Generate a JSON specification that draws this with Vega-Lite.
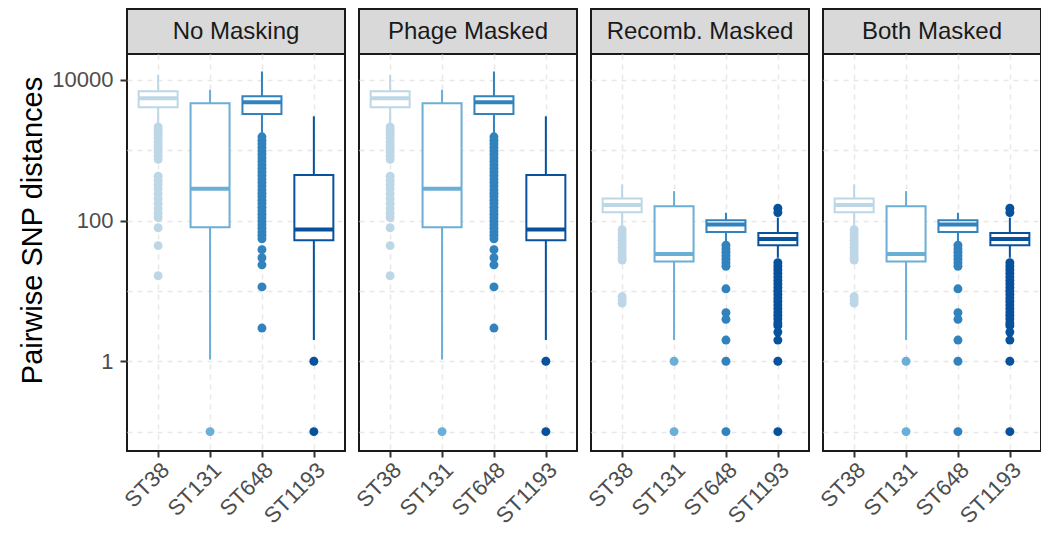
{
  "$schema": "https://vega.github.io/schema/vega-lite/v6.json",
  "padding": {"left": 16, "top": 8, "right": 0, "bottom": 0},
  "background": "white",
  "spacing": 5,
  "config": {
    "font": "Liberation Sans",
    "view": {"stroke": "#1a1a1a", "strokeWidth": 2}
  },
  "datasets": {
    "strips": [
      {"panel": "No Masking"}, {"panel": "Phage Masked"}, {"panel": "Recomb. Masked"}, {"panel": "Both Masked"}
    ],
    "boxes": [
      {"panel": "No Masking", "st": "ST38", "lower": 2350, "q1": 4070, "median": 5480, "q3": 6900, "upper": 11800},
      {"panel": "No Masking", "st": "ST131", "lower": 1.06, "q1": 80, "median": 284, "q3": 4640, "upper": 7260},
      {"panel": "No Masking", "st": "ST648", "lower": 1690, "q1": 3270, "median": 4800, "q3": 5850, "upper": 13150},
      {"panel": "No Masking", "st": "ST1193", "lower": 2.0, "q1": 52.4, "median": 74.3, "q3": 444, "upper": 3030},
      {"panel": "Phage Masked", "st": "ST38", "lower": 2350, "q1": 4070, "median": 5480, "q3": 6900, "upper": 11800},
      {"panel": "Phage Masked", "st": "ST131", "lower": 1.06, "q1": 80, "median": 284, "q3": 4640, "upper": 7260},
      {"panel": "Phage Masked", "st": "ST648", "lower": 1690, "q1": 3270, "median": 4800, "q3": 5850, "upper": 13150},
      {"panel": "Phage Masked", "st": "ST1193", "lower": 2.0, "q1": 52.4, "median": 74.3, "q3": 444, "upper": 3030},
      {"panel": "Recomb. Masked", "st": "ST38", "lower": 82, "q1": 131.5, "median": 166, "q3": 206, "upper": 327},
      {"panel": "Recomb. Masked", "st": "ST131", "lower": 2.0, "q1": 26.2, "median": 33.5, "q3": 160, "upper": 262},
      {"panel": "Recomb. Masked", "st": "ST648", "lower": 50, "q1": 68.9, "median": 87.7, "q3": 101, "upper": 129},
      {"panel": "Recomb. Masked", "st": "ST1193", "lower": 29.6, "q1": 44.4, "median": 54.8, "q3": 66.7, "upper": 110},
      {"panel": "Both Masked", "st": "ST38", "lower": 82, "q1": 131.5, "median": 166, "q3": 206, "upper": 327},
      {"panel": "Both Masked", "st": "ST131", "lower": 2.0, "q1": 26.2, "median": 33.5, "q3": 160, "upper": 262},
      {"panel": "Both Masked", "st": "ST648", "lower": 50, "q1": 68.9, "median": 87.7, "q3": 101, "upper": 129},
      {"panel": "Both Masked", "st": "ST1193", "lower": 29.6, "q1": 44.4, "median": 54.8, "q3": 66.7, "upper": 110}
    ],
    "outl": [
      {"panel": "No Masking", "st": "ST38", "value": 2138}, {"panel": "No Masking", "st": "ST38", "value": 1950}, {"panel": "No Masking", "st": "ST38", "value": 1778}, {"panel": "No Masking", "st": "ST38", "value": 1622}, {"panel": "No Masking", "st": "ST38", "value": 1479}, {"panel": "No Masking", "st": "ST38", "value": 1318}, {"panel": "No Masking", "st": "ST38", "value": 1175}, {"panel": "No Masking", "st": "ST38", "value": 1047}, {"panel": "No Masking", "st": "ST38", "value": 933}, {"panel": "No Masking", "st": "ST38", "value": 832}, {"panel": "No Masking", "st": "ST38", "value": 741},
      {"panel": "No Masking", "st": "ST38", "value": 427}, {"panel": "No Masking", "st": "ST38", "value": 372}, {"panel": "No Masking", "st": "ST38", "value": 324}, {"panel": "No Masking", "st": "ST38", "value": 282}, {"panel": "No Masking", "st": "ST38", "value": 240}, {"panel": "No Masking", "st": "ST38", "value": 204}, {"panel": "No Masking", "st": "ST38", "value": 174}, {"panel": "No Masking", "st": "ST38", "value": 148}, {"panel": "No Masking", "st": "ST38", "value": 126}, {"panel": "No Masking", "st": "ST38", "value": 110},
      {"panel": "No Masking", "st": "ST38", "value": 79}, {"panel": "No Masking", "st": "ST38", "value": 44}, {"panel": "No Masking", "st": "ST38", "value": 16.4},
      {"panel": "No Masking", "st": "ST131", "value": 0.1},
      {"panel": "No Masking", "st": "ST648", "value": 1549}, {"panel": "No Masking", "st": "ST648", "value": 1380}, {"panel": "No Masking", "st": "ST648", "value": 1230}, {"panel": "No Masking", "st": "ST648", "value": 1096}, {"panel": "No Masking", "st": "ST648", "value": 977}, {"panel": "No Masking", "st": "ST648", "value": 871}, {"panel": "No Masking", "st": "ST648", "value": 776}, {"panel": "No Masking", "st": "ST648", "value": 692}, {"panel": "No Masking", "st": "ST648", "value": 617}, {"panel": "No Masking", "st": "ST648", "value": 550}, {"panel": "No Masking", "st": "ST648", "value": 490}, {"panel": "No Masking", "st": "ST648", "value": 437}, {"panel": "No Masking", "st": "ST648", "value": 389}, {"panel": "No Masking", "st": "ST648", "value": 347}, {"panel": "No Masking", "st": "ST648", "value": 309}, {"panel": "No Masking", "st": "ST648", "value": 275}, {"panel": "No Masking", "st": "ST648", "value": 245}, {"panel": "No Masking", "st": "ST648", "value": 219}, {"panel": "No Masking", "st": "ST648", "value": 195}, {"panel": "No Masking", "st": "ST648", "value": 174}, {"panel": "No Masking", "st": "ST648", "value": 155}, {"panel": "No Masking", "st": "ST648", "value": 138}, {"panel": "No Masking", "st": "ST648", "value": 123}, {"panel": "No Masking", "st": "ST648", "value": 110}, {"panel": "No Masking", "st": "ST648", "value": 98}, {"panel": "No Masking", "st": "ST648", "value": 87}, {"panel": "No Masking", "st": "ST648", "value": 78}, {"panel": "No Masking", "st": "ST648", "value": 69}, {"panel": "No Masking", "st": "ST648", "value": 62}, {"panel": "No Masking", "st": "ST648", "value": 55},
      {"panel": "No Masking", "st": "ST648", "value": 38.5}, {"panel": "No Masking", "st": "ST648", "value": 29.6}, {"panel": "No Masking", "st": "ST648", "value": 23.5}, {"panel": "No Masking", "st": "ST648", "value": 11.4}, {"panel": "No Masking", "st": "ST648", "value": 2.96},
      {"panel": "No Masking", "st": "ST1193", "value": 1}, {"panel": "No Masking", "st": "ST1193", "value": 0.1},

      {"panel": "Phage Masked", "st": "ST38", "value": 2138}, {"panel": "Phage Masked", "st": "ST38", "value": 1950}, {"panel": "Phage Masked", "st": "ST38", "value": 1778}, {"panel": "Phage Masked", "st": "ST38", "value": 1622}, {"panel": "Phage Masked", "st": "ST38", "value": 1479}, {"panel": "Phage Masked", "st": "ST38", "value": 1318}, {"panel": "Phage Masked", "st": "ST38", "value": 1175}, {"panel": "Phage Masked", "st": "ST38", "value": 1047}, {"panel": "Phage Masked", "st": "ST38", "value": 933}, {"panel": "Phage Masked", "st": "ST38", "value": 832}, {"panel": "Phage Masked", "st": "ST38", "value": 741},
      {"panel": "Phage Masked", "st": "ST38", "value": 427}, {"panel": "Phage Masked", "st": "ST38", "value": 372}, {"panel": "Phage Masked", "st": "ST38", "value": 324}, {"panel": "Phage Masked", "st": "ST38", "value": 282}, {"panel": "Phage Masked", "st": "ST38", "value": 240}, {"panel": "Phage Masked", "st": "ST38", "value": 204}, {"panel": "Phage Masked", "st": "ST38", "value": 174}, {"panel": "Phage Masked", "st": "ST38", "value": 148}, {"panel": "Phage Masked", "st": "ST38", "value": 126}, {"panel": "Phage Masked", "st": "ST38", "value": 110},
      {"panel": "Phage Masked", "st": "ST38", "value": 79}, {"panel": "Phage Masked", "st": "ST38", "value": 44}, {"panel": "Phage Masked", "st": "ST38", "value": 16.4},
      {"panel": "Phage Masked", "st": "ST131", "value": 0.1},
      {"panel": "Phage Masked", "st": "ST648", "value": 1549}, {"panel": "Phage Masked", "st": "ST648", "value": 1380}, {"panel": "Phage Masked", "st": "ST648", "value": 1230}, {"panel": "Phage Masked", "st": "ST648", "value": 1096}, {"panel": "Phage Masked", "st": "ST648", "value": 977}, {"panel": "Phage Masked", "st": "ST648", "value": 871}, {"panel": "Phage Masked", "st": "ST648", "value": 776}, {"panel": "Phage Masked", "st": "ST648", "value": 692}, {"panel": "Phage Masked", "st": "ST648", "value": 617}, {"panel": "Phage Masked", "st": "ST648", "value": 550}, {"panel": "Phage Masked", "st": "ST648", "value": 490}, {"panel": "Phage Masked", "st": "ST648", "value": 437}, {"panel": "Phage Masked", "st": "ST648", "value": 389}, {"panel": "Phage Masked", "st": "ST648", "value": 347}, {"panel": "Phage Masked", "st": "ST648", "value": 309}, {"panel": "Phage Masked", "st": "ST648", "value": 275}, {"panel": "Phage Masked", "st": "ST648", "value": 245}, {"panel": "Phage Masked", "st": "ST648", "value": 219}, {"panel": "Phage Masked", "st": "ST648", "value": 195}, {"panel": "Phage Masked", "st": "ST648", "value": 174}, {"panel": "Phage Masked", "st": "ST648", "value": 155}, {"panel": "Phage Masked", "st": "ST648", "value": 138}, {"panel": "Phage Masked", "st": "ST648", "value": 123}, {"panel": "Phage Masked", "st": "ST648", "value": 110}, {"panel": "Phage Masked", "st": "ST648", "value": 98}, {"panel": "Phage Masked", "st": "ST648", "value": 87}, {"panel": "Phage Masked", "st": "ST648", "value": 78}, {"panel": "Phage Masked", "st": "ST648", "value": 69}, {"panel": "Phage Masked", "st": "ST648", "value": 62}, {"panel": "Phage Masked", "st": "ST648", "value": 55},
      {"panel": "Phage Masked", "st": "ST648", "value": 38.5}, {"panel": "Phage Masked", "st": "ST648", "value": 29.6}, {"panel": "Phage Masked", "st": "ST648", "value": 23.5}, {"panel": "Phage Masked", "st": "ST648", "value": 11.4}, {"panel": "Phage Masked", "st": "ST648", "value": 2.96},
      {"panel": "Phage Masked", "st": "ST1193", "value": 1}, {"panel": "Phage Masked", "st": "ST1193", "value": 0.1},

      {"panel": "Recomb. Masked", "st": "ST38", "value": 74}, {"panel": "Recomb. Masked", "st": "ST38", "value": 66}, {"panel": "Recomb. Masked", "st": "ST38", "value": 59}, {"panel": "Recomb. Masked", "st": "ST38", "value": 52.5}, {"panel": "Recomb. Masked", "st": "ST38", "value": 46.8}, {"panel": "Recomb. Masked", "st": "ST38", "value": 41.7}, {"panel": "Recomb. Masked", "st": "ST38", "value": 37.2}, {"panel": "Recomb. Masked", "st": "ST38", "value": 33.1}, {"panel": "Recomb. Masked", "st": "ST38", "value": 29.5}, {"panel": "Recomb. Masked", "st": "ST38", "value": 27.5}, {"panel": "Recomb. Masked", "st": "ST38", "value": 8.3}, {"panel": "Recomb. Masked", "st": "ST38", "value": 7.4}, {"panel": "Recomb. Masked", "st": "ST38", "value": 6.7},
      {"panel": "Recomb. Masked", "st": "ST131", "value": 1}, {"panel": "Recomb. Masked", "st": "ST131", "value": 0.1},
      {"panel": "Recomb. Masked", "st": "ST648", "value": 44.7}, {"panel": "Recomb. Masked", "st": "ST648", "value": 39.8}, {"panel": "Recomb. Masked", "st": "ST648", "value": 35.5}, {"panel": "Recomb. Masked", "st": "ST648", "value": 31.6}, {"panel": "Recomb. Masked", "st": "ST648", "value": 28.2}, {"panel": "Recomb. Masked", "st": "ST648", "value": 25.1}, {"panel": "Recomb. Masked", "st": "ST648", "value": 22.4}, {"panel": "Recomb. Masked", "st": "ST648", "value": 10.7}, {"panel": "Recomb. Masked", "st": "ST648", "value": 4.9}, {"panel": "Recomb. Masked", "st": "ST648", "value": 3.94}, {"panel": "Recomb. Masked", "st": "ST648", "value": 2.0}, {"panel": "Recomb. Masked", "st": "ST648", "value": 1}, {"panel": "Recomb. Masked", "st": "ST648", "value": 0.1},
      {"panel": "Recomb. Masked", "st": "ST1193", "value": 150}, {"panel": "Recomb. Masked", "st": "ST1193", "value": 130}, {"panel": "Recomb. Masked", "st": "ST1193", "value": 25.1}, {"panel": "Recomb. Masked", "st": "ST1193", "value": 22.4}, {"panel": "Recomb. Masked", "st": "ST1193", "value": 20}, {"panel": "Recomb. Masked", "st": "ST1193", "value": 17.8}, {"panel": "Recomb. Masked", "st": "ST1193", "value": 15.8}, {"panel": "Recomb. Masked", "st": "ST1193", "value": 14.1}, {"panel": "Recomb. Masked", "st": "ST1193", "value": 12.6}, {"panel": "Recomb. Masked", "st": "ST1193", "value": 11.2}, {"panel": "Recomb. Masked", "st": "ST1193", "value": 10}, {"panel": "Recomb. Masked", "st": "ST1193", "value": 8.9}, {"panel": "Recomb. Masked", "st": "ST1193", "value": 7.9}, {"panel": "Recomb. Masked", "st": "ST1193", "value": 7.1}, {"panel": "Recomb. Masked", "st": "ST1193", "value": 6.3}, {"panel": "Recomb. Masked", "st": "ST1193", "value": 5.6}, {"panel": "Recomb. Masked", "st": "ST1193", "value": 5.0}, {"panel": "Recomb. Masked", "st": "ST1193", "value": 4.5}, {"panel": "Recomb. Masked", "st": "ST1193", "value": 4.0}, {"panel": "Recomb. Masked", "st": "ST1193", "value": 3.5}, {"panel": "Recomb. Masked", "st": "ST1193", "value": 3.2}, {"panel": "Recomb. Masked", "st": "ST1193", "value": 2.6}, {"panel": "Recomb. Masked", "st": "ST1193", "value": 2.0}, {"panel": "Recomb. Masked", "st": "ST1193", "value": 1}, {"panel": "Recomb. Masked", "st": "ST1193", "value": 0.1},

      {"panel": "Both Masked", "st": "ST38", "value": 74}, {"panel": "Both Masked", "st": "ST38", "value": 66}, {"panel": "Both Masked", "st": "ST38", "value": 59}, {"panel": "Both Masked", "st": "ST38", "value": 52.5}, {"panel": "Both Masked", "st": "ST38", "value": 46.8}, {"panel": "Both Masked", "st": "ST38", "value": 41.7}, {"panel": "Both Masked", "st": "ST38", "value": 37.2}, {"panel": "Both Masked", "st": "ST38", "value": 33.1}, {"panel": "Both Masked", "st": "ST38", "value": 29.5}, {"panel": "Both Masked", "st": "ST38", "value": 27.5}, {"panel": "Both Masked", "st": "ST38", "value": 8.3}, {"panel": "Both Masked", "st": "ST38", "value": 7.4}, {"panel": "Both Masked", "st": "ST38", "value": 6.7},
      {"panel": "Both Masked", "st": "ST131", "value": 1}, {"panel": "Both Masked", "st": "ST131", "value": 0.1},
      {"panel": "Both Masked", "st": "ST648", "value": 44.7}, {"panel": "Both Masked", "st": "ST648", "value": 39.8}, {"panel": "Both Masked", "st": "ST648", "value": 35.5}, {"panel": "Both Masked", "st": "ST648", "value": 31.6}, {"panel": "Both Masked", "st": "ST648", "value": 28.2}, {"panel": "Both Masked", "st": "ST648", "value": 25.1}, {"panel": "Both Masked", "st": "ST648", "value": 22.4}, {"panel": "Both Masked", "st": "ST648", "value": 10.7}, {"panel": "Both Masked", "st": "ST648", "value": 4.9}, {"panel": "Both Masked", "st": "ST648", "value": 3.94}, {"panel": "Both Masked", "st": "ST648", "value": 2.0}, {"panel": "Both Masked", "st": "ST648", "value": 1}, {"panel": "Both Masked", "st": "ST648", "value": 0.1},
      {"panel": "Both Masked", "st": "ST1193", "value": 150}, {"panel": "Both Masked", "st": "ST1193", "value": 130}, {"panel": "Both Masked", "st": "ST1193", "value": 25.1}, {"panel": "Both Masked", "st": "ST1193", "value": 22.4}, {"panel": "Both Masked", "st": "ST1193", "value": 20}, {"panel": "Both Masked", "st": "ST1193", "value": 17.8}, {"panel": "Both Masked", "st": "ST1193", "value": 15.8}, {"panel": "Both Masked", "st": "ST1193", "value": 14.1}, {"panel": "Both Masked", "st": "ST1193", "value": 12.6}, {"panel": "Both Masked", "st": "ST1193", "value": 11.2}, {"panel": "Both Masked", "st": "ST1193", "value": 10}, {"panel": "Both Masked", "st": "ST1193", "value": 8.9}, {"panel": "Both Masked", "st": "ST1193", "value": 7.9}, {"panel": "Both Masked", "st": "ST1193", "value": 7.1}, {"panel": "Both Masked", "st": "ST1193", "value": 6.3}, {"panel": "Both Masked", "st": "ST1193", "value": 5.6}, {"panel": "Both Masked", "st": "ST1193", "value": 5.0}, {"panel": "Both Masked", "st": "ST1193", "value": 4.5}, {"panel": "Both Masked", "st": "ST1193", "value": 4.0}, {"panel": "Both Masked", "st": "ST1193", "value": 3.5}, {"panel": "Both Masked", "st": "ST1193", "value": 3.2}, {"panel": "Both Masked", "st": "ST1193", "value": 2.6}, {"panel": "Both Masked", "st": "ST1193", "value": 2.0}, {"panel": "Both Masked", "st": "ST1193", "value": 1}, {"panel": "Both Masked", "st": "ST1193", "value": 0.1}
    ]
  },
  "hconcat": [
    {
      "bounds": "flush", "spacing": 0,
      "vconcat": [
        {"data": {"name": "strips"}, "transform": [{"filter": "datum.panel == 'No Masking'"}], "width": 218, "height": 45,
         "view": {"fill": "#d9d9d9", "stroke": "#1a1a1a", "strokeWidth": 2},
         "mark": {"type": "text", "fontSize": 24, "color": "#1a1a1a", "font": "Liberation Sans"},
         "encoding": {"text": {"field": "panel", "type": "nominal"}}},
        {"width": 218, "height": 397,
         "encoding": {"x": {"field": "st", "type": "nominal", "sort": ["ST38", "ST131", "ST648", "ST1193"], "scale": {"type": "point", "padding": 0.6, "domain": ["ST38", "ST131", "ST648", "ST1193"]}, "axis": {"title": null, "labelAngle": -45, "labelAlign": "right", "labelBaseline": "top", "labelFontSize": 22, "labelColor": "#4d4d4d", "labelPadding": 2, "tickSize": 6, "tickWidth": 2, "tickColor": "#333333", "domain": false, "grid": true, "gridDash": [5, 5], "gridColor": "#e8e8e8", "gridWidth": 1.5}}},
         "layer": [
           {"data": {"name": "boxes"}, "transform": [{"filter": "datum.panel == 'No Masking'"}], "mark": {"type": "rule", "strokeWidth": 2},
            "encoding": {"y": {"field": "lower", "type": "quantitative", "scale": {"type": "log", "domain": [0.053, 23300], "nice": false, "zero": false},
              "axis": {"title": "Pairwise SNP distances", "titleFontSize": 29, "titleFontWeight": "normal", "titleColor": "#000000", "titlePadding": 1, "titleY": 176, "titleX": -80,
                "values": [0.1, 1, 10, 100, 1000, 10000], "format": "d",
                "labelExpr": "datum.value == 1 || datum.value == 100 || datum.value == 10000 ? datum.label : ''",
                "labelFontSize": 22, "labelColor": "#4d4d4d", "labelPadding": 7,
                "tickSize": 7, "tickWidth": 2, "tickColor": "#333333",
                "tickOpacity": {"condition": {"test": "datum.value == 1 || datum.value == 100 || datum.value == 10000", "value": 1}, "value": 0},
                "domain": false, "grid": true, "gridDash": [5, 5], "gridColor": "#e8e8e8", "gridWidth": 1.5}},
              "y2": {"field": "upper"},
              "color": {"field": "st", "type": "nominal", "scale": {"domain": ["ST38", "ST131", "ST648", "ST1193"], "range": ["#bdd7e7", "#6baed6", "#3182bd", "#08519c"]}, "legend": null}}},
           {"data": {"name": "boxes"}, "transform": [{"filter": "datum.panel == 'No Masking'"}], "mark": {"type": "bar", "fill": "white", "strokeWidth": 2, "width": 39},
            "encoding": {"y": {"field": "q1", "type": "quantitative", "scale": {"type": "log", "domain": [0.053, 23300], "nice": false, "zero": false}},
              "y2": {"field": "q3"},
              "stroke": {"field": "st", "type": "nominal", "scale": {"domain": ["ST38", "ST131", "ST648", "ST1193"], "range": ["#bdd7e7", "#6baed6", "#3182bd", "#08519c"]}, "legend": null}}},
           {"data": {"name": "boxes"}, "transform": [{"filter": "datum.panel == 'No Masking'"}], "mark": {"type": "tick", "thickness": 4, "size": 39, "opacity": 1},
            "encoding": {"y": {"field": "median", "type": "quantitative", "scale": {"type": "log", "domain": [0.053, 23300], "nice": false, "zero": false}},
              "color": {"field": "st", "type": "nominal", "scale": {"domain": ["ST38", "ST131", "ST648", "ST1193"], "range": ["#bdd7e7", "#6baed6", "#3182bd", "#08519c"]}, "legend": null}}},
           {"data": {"name": "outl"}, "transform": [{"filter": "datum.panel == 'No Masking'"}], "mark": {"type": "circle", "size": 80, "opacity": 1},
            "encoding": {"y": {"field": "value", "type": "quantitative", "scale": {"type": "log", "domain": [0.053, 23300], "nice": false, "zero": false}},
              "color": {"field": "st", "type": "nominal", "scale": {"domain": ["ST38", "ST131", "ST648", "ST1193"], "range": ["#bdd7e7", "#6baed6", "#3182bd", "#08519c"]}, "legend": null}}}
         ]}
      ]
    },
    {
      "bounds": "flush", "spacing": 0,
      "vconcat": [
        {"data": {"name": "strips"}, "transform": [{"filter": "datum.panel == 'Phage Masked'"}], "width": 218, "height": 45,
         "view": {"fill": "#d9d9d9", "stroke": "#1a1a1a", "strokeWidth": 2},
         "mark": {"type": "text", "fontSize": 24, "color": "#1a1a1a", "font": "Liberation Sans"},
         "encoding": {"text": {"field": "panel", "type": "nominal"}}},
        {"width": 218, "height": 397,
         "encoding": {"x": {"field": "st", "type": "nominal", "sort": ["ST38", "ST131", "ST648", "ST1193"], "scale": {"type": "point", "padding": 0.6, "domain": ["ST38", "ST131", "ST648", "ST1193"]}, "axis": {"title": null, "labelAngle": -45, "labelAlign": "right", "labelBaseline": "top", "labelFontSize": 22, "labelColor": "#4d4d4d", "labelPadding": 2, "tickSize": 6, "tickWidth": 2, "tickColor": "#333333", "domain": false, "grid": true, "gridDash": [5, 5], "gridColor": "#e8e8e8", "gridWidth": 1.5}}},
         "layer": [
           {"data": {"name": "boxes"}, "transform": [{"filter": "datum.panel == 'Phage Masked'"}], "mark": {"type": "rule", "strokeWidth": 2},
            "encoding": {"y": {"field": "lower", "type": "quantitative", "scale": {"type": "log", "domain": [0.053, 23300], "nice": false, "zero": false},
              "axis": {"title": null, "labels": false, "ticks": false, "values": [0.1, 1, 10, 100, 1000, 10000], "domain": false, "grid": true, "gridDash": [5, 5], "gridColor": "#e8e8e8", "gridWidth": 1.5}},
              "y2": {"field": "upper"},
              "color": {"field": "st", "type": "nominal", "scale": {"domain": ["ST38", "ST131", "ST648", "ST1193"], "range": ["#bdd7e7", "#6baed6", "#3182bd", "#08519c"]}, "legend": null}}},
           {"data": {"name": "boxes"}, "transform": [{"filter": "datum.panel == 'Phage Masked'"}], "mark": {"type": "bar", "fill": "white", "strokeWidth": 2, "width": 39},
            "encoding": {"y": {"field": "q1", "type": "quantitative", "scale": {"type": "log", "domain": [0.053, 23300], "nice": false, "zero": false}},
              "y2": {"field": "q3"},
              "stroke": {"field": "st", "type": "nominal", "scale": {"domain": ["ST38", "ST131", "ST648", "ST1193"], "range": ["#bdd7e7", "#6baed6", "#3182bd", "#08519c"]}, "legend": null}}},
           {"data": {"name": "boxes"}, "transform": [{"filter": "datum.panel == 'Phage Masked'"}], "mark": {"type": "tick", "thickness": 4, "size": 39, "opacity": 1},
            "encoding": {"y": {"field": "median", "type": "quantitative", "scale": {"type": "log", "domain": [0.053, 23300], "nice": false, "zero": false}},
              "color": {"field": "st", "type": "nominal", "scale": {"domain": ["ST38", "ST131", "ST648", "ST1193"], "range": ["#bdd7e7", "#6baed6", "#3182bd", "#08519c"]}, "legend": null}}},
           {"data": {"name": "outl"}, "transform": [{"filter": "datum.panel == 'Phage Masked'"}], "mark": {"type": "circle", "size": 80, "opacity": 1},
            "encoding": {"y": {"field": "value", "type": "quantitative", "scale": {"type": "log", "domain": [0.053, 23300], "nice": false, "zero": false}},
              "color": {"field": "st", "type": "nominal", "scale": {"domain": ["ST38", "ST131", "ST648", "ST1193"], "range": ["#bdd7e7", "#6baed6", "#3182bd", "#08519c"]}, "legend": null}}}
         ]}
      ]
    },
    {
      "bounds": "flush", "spacing": 0,
      "vconcat": [
        {"data": {"name": "strips"}, "transform": [{"filter": "datum.panel == 'Recomb. Masked'"}], "width": 218, "height": 45,
         "view": {"fill": "#d9d9d9", "stroke": "#1a1a1a", "strokeWidth": 2},
         "mark": {"type": "text", "fontSize": 24, "color": "#1a1a1a", "font": "Liberation Sans"},
         "encoding": {"text": {"field": "panel", "type": "nominal"}}},
        {"width": 218, "height": 397,
         "encoding": {"x": {"field": "st", "type": "nominal", "sort": ["ST38", "ST131", "ST648", "ST1193"], "scale": {"type": "point", "padding": 0.6, "domain": ["ST38", "ST131", "ST648", "ST1193"]}, "axis": {"title": null, "labelAngle": -45, "labelAlign": "right", "labelBaseline": "top", "labelFontSize": 22, "labelColor": "#4d4d4d", "labelPadding": 2, "tickSize": 6, "tickWidth": 2, "tickColor": "#333333", "domain": false, "grid": true, "gridDash": [5, 5], "gridColor": "#e8e8e8", "gridWidth": 1.5}}},
         "layer": [
           {"data": {"name": "boxes"}, "transform": [{"filter": "datum.panel == 'Recomb. Masked'"}], "mark": {"type": "rule", "strokeWidth": 2},
            "encoding": {"y": {"field": "lower", "type": "quantitative", "scale": {"type": "log", "domain": [0.053, 23300], "nice": false, "zero": false},
              "axis": {"title": null, "labels": false, "ticks": false, "values": [0.1, 1, 10, 100, 1000, 10000], "domain": false, "grid": true, "gridDash": [5, 5], "gridColor": "#e8e8e8", "gridWidth": 1.5}},
              "y2": {"field": "upper"},
              "color": {"field": "st", "type": "nominal", "scale": {"domain": ["ST38", "ST131", "ST648", "ST1193"], "range": ["#bdd7e7", "#6baed6", "#3182bd", "#08519c"]}, "legend": null}}},
           {"data": {"name": "boxes"}, "transform": [{"filter": "datum.panel == 'Recomb. Masked'"}], "mark": {"type": "bar", "fill": "white", "strokeWidth": 2, "width": 39},
            "encoding": {"y": {"field": "q1", "type": "quantitative", "scale": {"type": "log", "domain": [0.053, 23300], "nice": false, "zero": false}},
              "y2": {"field": "q3"},
              "stroke": {"field": "st", "type": "nominal", "scale": {"domain": ["ST38", "ST131", "ST648", "ST1193"], "range": ["#bdd7e7", "#6baed6", "#3182bd", "#08519c"]}, "legend": null}}},
           {"data": {"name": "boxes"}, "transform": [{"filter": "datum.panel == 'Recomb. Masked'"}], "mark": {"type": "tick", "thickness": 4, "size": 39, "opacity": 1},
            "encoding": {"y": {"field": "median", "type": "quantitative", "scale": {"type": "log", "domain": [0.053, 23300], "nice": false, "zero": false}},
              "color": {"field": "st", "type": "nominal", "scale": {"domain": ["ST38", "ST131", "ST648", "ST1193"], "range": ["#bdd7e7", "#6baed6", "#3182bd", "#08519c"]}, "legend": null}}},
           {"data": {"name": "outl"}, "transform": [{"filter": "datum.panel == 'Recomb. Masked'"}], "mark": {"type": "circle", "size": 80, "opacity": 1},
            "encoding": {"y": {"field": "value", "type": "quantitative", "scale": {"type": "log", "domain": [0.053, 23300], "nice": false, "zero": false}},
              "color": {"field": "st", "type": "nominal", "scale": {"domain": ["ST38", "ST131", "ST648", "ST1193"], "range": ["#bdd7e7", "#6baed6", "#3182bd", "#08519c"]}, "legend": null}}}
         ]}
      ]
    },
    {
      "bounds": "flush", "spacing": 0,
      "vconcat": [
        {"data": {"name": "strips"}, "transform": [{"filter": "datum.panel == 'Both Masked'"}], "width": 218, "height": 45,
         "view": {"fill": "#d9d9d9", "stroke": "#1a1a1a", "strokeWidth": 2},
         "mark": {"type": "text", "fontSize": 24, "color": "#1a1a1a", "font": "Liberation Sans"},
         "encoding": {"text": {"field": "panel", "type": "nominal"}}},
        {"width": 218, "height": 397,
         "encoding": {"x": {"field": "st", "type": "nominal", "sort": ["ST38", "ST131", "ST648", "ST1193"], "scale": {"type": "point", "padding": 0.6, "domain": ["ST38", "ST131", "ST648", "ST1193"]}, "axis": {"title": null, "labelAngle": -45, "labelAlign": "right", "labelBaseline": "top", "labelFontSize": 22, "labelColor": "#4d4d4d", "labelPadding": 2, "tickSize": 6, "tickWidth": 2, "tickColor": "#333333", "domain": false, "grid": true, "gridDash": [5, 5], "gridColor": "#e8e8e8", "gridWidth": 1.5}}},
         "layer": [
           {"data": {"name": "boxes"}, "transform": [{"filter": "datum.panel == 'Both Masked'"}], "mark": {"type": "rule", "strokeWidth": 2},
            "encoding": {"y": {"field": "lower", "type": "quantitative", "scale": {"type": "log", "domain": [0.053, 23300], "nice": false, "zero": false},
              "axis": {"title": null, "labels": false, "ticks": false, "values": [0.1, 1, 10, 100, 1000, 10000], "domain": false, "grid": true, "gridDash": [5, 5], "gridColor": "#e8e8e8", "gridWidth": 1.5}},
              "y2": {"field": "upper"},
              "color": {"field": "st", "type": "nominal", "scale": {"domain": ["ST38", "ST131", "ST648", "ST1193"], "range": ["#bdd7e7", "#6baed6", "#3182bd", "#08519c"]}, "legend": null}}},
           {"data": {"name": "boxes"}, "transform": [{"filter": "datum.panel == 'Both Masked'"}], "mark": {"type": "bar", "fill": "white", "strokeWidth": 2, "width": 39},
            "encoding": {"y": {"field": "q1", "type": "quantitative", "scale": {"type": "log", "domain": [0.053, 23300], "nice": false, "zero": false}},
              "y2": {"field": "q3"},
              "stroke": {"field": "st", "type": "nominal", "scale": {"domain": ["ST38", "ST131", "ST648", "ST1193"], "range": ["#bdd7e7", "#6baed6", "#3182bd", "#08519c"]}, "legend": null}}},
           {"data": {"name": "boxes"}, "transform": [{"filter": "datum.panel == 'Both Masked'"}], "mark": {"type": "tick", "thickness": 4, "size": 39, "opacity": 1},
            "encoding": {"y": {"field": "median", "type": "quantitative", "scale": {"type": "log", "domain": [0.053, 23300], "nice": false, "zero": false}},
              "color": {"field": "st", "type": "nominal", "scale": {"domain": ["ST38", "ST131", "ST648", "ST1193"], "range": ["#bdd7e7", "#6baed6", "#3182bd", "#08519c"]}, "legend": null}}},
           {"data": {"name": "outl"}, "transform": [{"filter": "datum.panel == 'Both Masked'"}], "mark": {"type": "circle", "size": 80, "opacity": 1},
            "encoding": {"y": {"field": "value", "type": "quantitative", "scale": {"type": "log", "domain": [0.053, 23300], "nice": false, "zero": false}},
              "color": {"field": "st", "type": "nominal", "scale": {"domain": ["ST38", "ST131", "ST648", "ST1193"], "range": ["#bdd7e7", "#6baed6", "#3182bd", "#08519c"]}, "legend": null}}}
         ]}
      ]
    }
  ]
}
